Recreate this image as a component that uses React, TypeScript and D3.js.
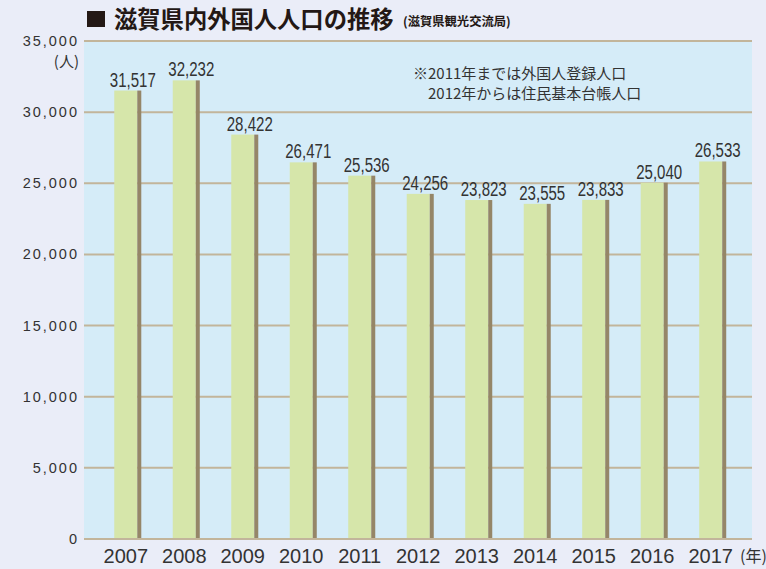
import React from 'react';
import * as d3 from 'd3';

const years = ['2007', '2008', '2009', '2010', '2011', '2012', '2013', '2014', '2015', '2016', '2017'];
const population = [31517, 32232, 28422, 26471, 25536, 24256, 23823, 23555, 23833, 25040, 26533];
const yTicks = [0, 5000, 10000, 15000, 20000, 25000, 30000, 35000];
const noteLines = ['※2011年までは外国人登録人口', '2012年からは住民基本台帳人口'];

const W = 766;
const H = 569;
const plot = { left: 84, right: 752, top: 40, bottom: 539 };

const App: React.FC = () => {
  const x = d3.scaleBand<string>()
    .domain(years)
    .range([plot.left, plot.right])
    .paddingInner(0.538)
    .paddingOuter(0.479)
    .align(0.54);
  const y = d3.scaleLinear().domain([0, 35000]).range([plot.bottom, 41]);
  const fmt = d3.format(',');
  const bw = x.bandwidth();
  const stripe = 4;

  const txt = '#333333';
  const jp = '"Noto Sans CJK JP", "Noto Sans", sans-serif';
  const latin = '"Liberation Sans", Arial, sans-serif';

  return (
    <svg width={W} height={H} style={{ position: 'absolute', left: 0, top: 0, background: '#eaedf8' }}>
      <rect x={0} y={0} width={W} height={H} fill="#eaedf8" />

      {/* title */}
      <rect x={87} y={11} width={18} height={16} fill="#231815" />
      <text x={114} y={28} fontFamily={jp} fontWeight={700} fontSize={23.3} fill="#231815">
        滋賀県内外国人人口の推移
      </text>
      <text x={403} y={26} fontFamily={jp} fontWeight={700} fontSize={12.3} fill="#231815">
        (滋賀県観光交流局)
      </text>

      {/* plot background */}
      <rect x={plot.left} y={plot.top} width={plot.right - plot.left} height={plot.bottom - plot.top} fill="#d5ecf8" />

      {/* grid */}
      {yTicks.map(t => (
        <line key={t} x1={plot.left} x2={plot.right} y1={y(t)} y2={y(t)} stroke="#c2b59b" strokeWidth={2} />
      ))}

      {/* y tick labels */}
      {yTicks.map(t => (
        <text key={t} x={79} y={y(t) + 5} textAnchor="end" fontFamily={latin}
          fontSize={14.5} letterSpacing={2} fill={txt}>
          {fmt(t)}
        </text>
      ))}
      <text x={79} y={67} textAnchor="end" fontFamily={jp} fontSize={15} fill={txt}>(人)</text>

      {/* bars */}
      {years.map((yr, i) => {
        const bx = x(yr)!;
        const top = y(population[i]);
        return (
          <g key={yr}>
            <rect x={bx} y={top} width={bw - stripe} height={plot.bottom - 1 - top} fill="#d6e6aa" />
            <rect x={bx + bw - stripe} y={top} width={stripe} height={plot.bottom - 1 - top} fill="#958668" />
            <text x={bx + bw / 2 + 5} y={top - 4} textAnchor="middle"
              fontFamily={latin} fontSize={20} textLength={46} lengthAdjust="spacingAndGlyphs" fill={txt}>
              {fmt(population[i])}
            </text>
            <text x={bx + bw / 2 - 2} y={563} textAnchor="middle" fontFamily={latin}
              fontSize={20} fill={txt}>
              {yr}
            </text>
          </g>
        );
      })}
      <text x={740} y={562} fontFamily={jp} fontSize={16} fill={txt}>(年)</text>

      {/* note */}
      <text x={413} y={79} fontFamily={jp} fontSize={15} fill={txt}>{noteLines[0]}</text>
      <text x={428} y={99} fontFamily={jp} fontSize={15} fill={txt}>{noteLines[1]}</text>
    </svg>
  );
};

export default App;
